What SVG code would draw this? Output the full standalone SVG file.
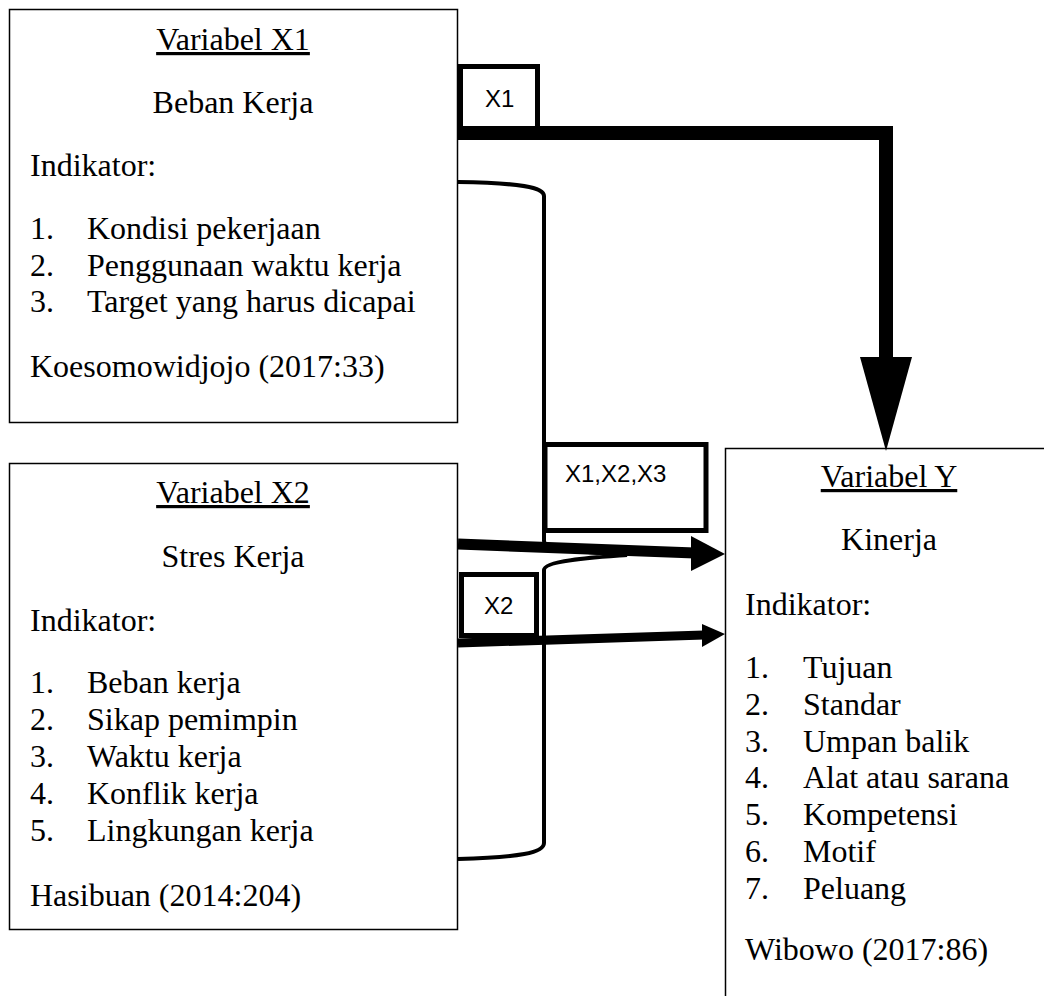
<svg xmlns="http://www.w3.org/2000/svg" width="1044" height="996" viewBox="0 0 1044 996">
<style>
.box{fill:#fff;stroke:#000;stroke-width:1.5}
.t{font-family:"Liberation Serif","Times New Roman",serif;font-size:32px;fill:#000}
.c{text-anchor:middle}
.u{text-decoration:underline}
.lbl{fill:#fff;stroke:#000;stroke-width:5}
.lt{font-family:"Liberation Sans",Arial,sans-serif;font-size:24px;fill:#000}
.ln{fill:none;stroke:#000}
</style>
<rect width="1044" height="996" fill="#fff"/>
<g id="nodeX1">
<rect class="box" x="9.5" y="9.5" width="448" height="413"/>
<text class="t c u" x="233" y="50">Variabel X1</text>
<text class="t c" x="233" y="113">Beban Kerja</text>
<text class="t" x="30" y="176">Indikator:</text>
<text class="t" x="30" y="239">1.</text><text class="t" x="87" y="239">Kondisi pekerjaan</text>
<text class="t" x="30" y="276">2.</text><text class="t" x="87" y="276">Penggunaan waktu kerja</text>
<text class="t" x="30" y="312">3.</text><text class="t" x="87" y="312">Target yang harus dicapai</text>
<text class="t" x="30" y="377">Koesomowidjojo (2017:33)</text>
</g>
<g id="nodeX2">
<rect class="box" x="9.5" y="463.5" width="448" height="466"/>
<text class="t c u" x="233" y="503">Variabel X2</text>
<text class="t c" x="233" y="567">Stres Kerja</text>
<text class="t" x="30" y="631">Indikator:</text>
<text class="t" x="30" y="693">1.</text><text class="t" x="87" y="693">Beban kerja</text>
<text class="t" x="30" y="730">2.</text><text class="t" x="87" y="730">Sikap pemimpin</text>
<text class="t" x="30" y="767">3.</text><text class="t" x="87" y="767">Waktu kerja</text>
<text class="t" x="30" y="804">4.</text><text class="t" x="87" y="804">Konflik kerja</text>
<text class="t" x="30" y="841">5.</text><text class="t" x="87" y="841">Lingkungan kerja</text>
<text class="t" x="30" y="906">Hasibuan (2014:204)</text>
</g>
<g id="nodeY">
<rect class="box" x="725.5" y="448.5" width="330" height="600"/>
<text class="t c u" x="889" y="487">Variabel Y</text>
<text class="t c" x="889" y="550">Kinerja</text>
<text class="t" x="745" y="615">Indikator:</text>
<text class="t" x="745" y="678">1.</text><text class="t" x="803" y="678">Tujuan</text>
<text class="t" x="745" y="715">2.</text><text class="t" x="803" y="715">Standar</text>
<text class="t" x="745" y="752">3.</text><text class="t" x="803" y="752">Umpan balik</text>
<text class="t" x="745" y="788">4.</text><text class="t" x="803" y="788">Alat atau sarana</text>
<text class="t" x="745" y="825">5.</text><text class="t" x="803" y="825">Kompetensi</text>
<text class="t" x="745" y="862">6.</text><text class="t" x="803" y="862">Motif</text>
<text class="t" x="745" y="899">7.</text><text class="t" x="803" y="899">Peluang</text>
<text class="t" x="745" y="960">Wibowo (2017:86)</text>
</g>
<g id="connectors">
<path class="ln" stroke-width="4" d="M458,182 C520,183 544,187 544,196 L544,541 C544,550 600,553 627,555 C600,557 544,560 544,570 L544,843 C544,853 520,857 458,859"/>
<polyline class="ln" stroke-width="14" stroke-linejoin="miter" points="458,133 886,133 886,358"/>
<polygon points="860,357 912,357 886,451" fill="#000"/>
<line class="ln" stroke-width="11" x1="458" y1="544" x2="695" y2="553"/>
<polygon points="691,536 725,554 691,571" fill="#000"/>
<line class="ln" stroke-width="9" x1="458" y1="643" x2="704" y2="635"/>
<polygon points="702,624 725,634 702,647" fill="#000"/>
</g>
<g id="labelX1">
<rect class="lbl" x="460.5" y="66.5" width="77" height="62"/>
<text class="lt" x="485" y="107">X1</text>
</g>
<g id="labelX123">
<rect class="lbl" x="545" y="444.5" width="161" height="86" stroke-width="4"/>
<text class="lt" x="565" y="482">X1,X2,X3</text>
</g>
<g id="labelX2">
<rect class="lbl" x="461.5" y="574.5" width="75" height="61"/>
<text class="lt" x="484" y="614">X2</text>
</g>
</svg>
